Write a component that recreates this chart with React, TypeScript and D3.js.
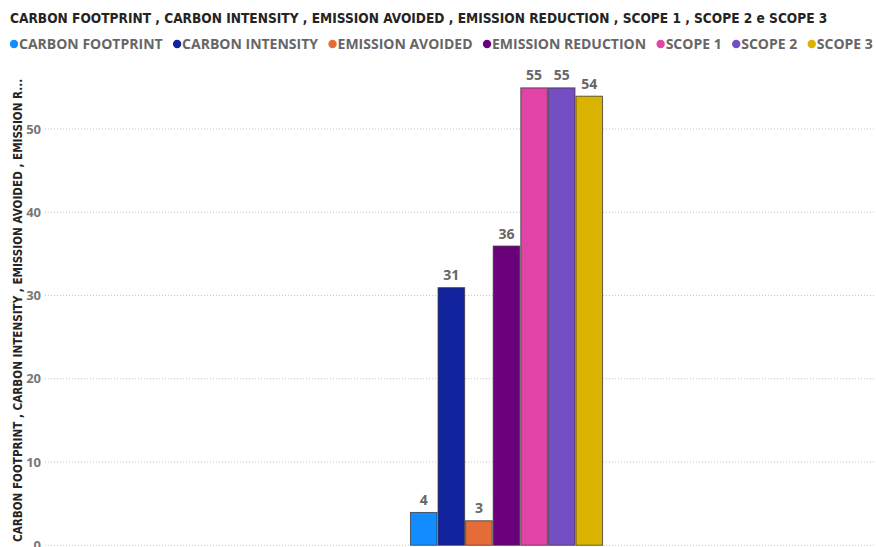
import React, { useMemo } from "react";
import * as d3 from "d3";

const WIDTH = 876;
const HEIGHT = 547;

const categories = ["Total"];
const seriesNames = [
  "CARBON FOOTPRINT",
  "CARBON INTENSITY",
  "EMISSION AVOIDED",
  "EMISSION REDUCTION",
  "SCOPE 1",
  "SCOPE 2",
  "SCOPE 3",
];
const seriesValues = [4, 31, 3, 36, 55, 55, 54];
const seriesColors = ["#118DFF", "#12239E", "#E66C37", "#6B007B", "#E044A7", "#744EC2", "#D9B300"];
const yTicks = [0, 10, 20, 30, 40, 50];

const titleText =
  "CARBON FOOTPRINT , CARBON INTENSITY , EMISSION AVOIDED , EMISSION REDUCTION , SCOPE 1 , SCOPE 2 e SCOPE 3";
const yAxisTitle = "CARBON FOOTPRINT , CARBON INTENSITY , EMISSION AVOIDED , EMISSION R...";

const uiFont = "'Open Sans', 'Noto Sans', sans-serif";
const headFont = "'DejaVu Sans Condensed', 'DejaVu Sans', sans-serif";

function measure(text: string, font: string): number {
  if (typeof document === "undefined") return text.length * 8;
  const c = document.createElement("canvas");
  const ctx = c.getContext("2d");
  if (!ctx) return text.length * 8;
  ctx.font = font;
  return ctx.measureText(text).width;
}

export default function App() {
  const plotLeft = 45;
  const plotRight = 968; // plot extends past the visible frame
  const y = d3.scaleLinear().domain([0, 60]).range([545.25, 45.75]);
  const x0 = d3
    .scaleBand<string>()
    .domain(categories)
    .range([plotLeft, plotRight])
    .paddingInner(0.654)
    .paddingOuter(0.654);
  const x1 = d3
    .scaleBand<string>()
    .domain(seriesNames)
    .range([0, x0.bandwidth()])
    .padding(0);

  const titleSize = 14.5;
  const titleWidth = 818;
  const titleScale = useMemo(() => {
    const w = measure(titleText, `700 ${titleSize}px ${headFont}`);
    return w > 0 ? Math.min(1, titleWidth / w) : 1;
  }, []);

  const axisTitleSize = 12.5;
  const axisTitleLength = 464;
  const axisTitleScale = useMemo(() => {
    const w = measure(yAxisTitle, `700 ${axisTitleSize}px ${headFont}`);
    return w > 0 ? axisTitleLength / w : 1;
  }, []);

  const legendFontSize = 14;
  const legendItems = useMemo(() => {
    let cx = 14;
    return seriesNames.map((name, i) => {
      const w = measure(name, `700 ${legendFontSize}px ${uiFont}`);
      const item = { name, color: seriesColors[i], cx, tx: cx + 5 };
      cx = cx + 5 + w + 14.5;
      return item;
    });
  }, []);

  return (
    <svg
      width={WIDTH}
      height={HEIGHT}
      style={{ position: "fixed", left: 0, top: 0, background: "#fff" }}
    >
      <text
        transform={`translate(10, 23) scale(${titleScale}, 1)`}
        fontFamily={headFont}
        fontWeight={700}
        fontSize={titleSize}
        fill="#252423"
      >
        {titleText}
      </text>

      <g>
        {legendItems.map((it) => (
          <g key={it.name}>
            <circle cx={it.cx} cy={44} r={4.2} fill={it.color} />
            <text
              x={it.tx}
              y={49}
              fontFamily={uiFont}
              fontWeight={700}
              fontSize={legendFontSize}
              fill="#666"
            >
              {it.name}
            </text>
          </g>
        ))}
      </g>

      <text
        transform={`translate(22, 542) rotate(-90) scale(${axisTitleScale}, 1)`}
        fontFamily={headFont}
        fontWeight={700}
        fontSize={axisTitleSize}
        fill="#252423"
      >
        {yAxisTitle}
      </text>

      <g>
        {yTicks.map((t) => (
          <g key={t}>
            <line
              x1={plotLeft}
              x2={WIDTH}
              y1={y(t)}
              y2={y(t)}
              stroke="#C8C8C8"
              strokeWidth={1}
              strokeDasharray="1 2"
            />
            <text
              x={41}
              y={y(t) + 4.5}
              textAnchor="end"
              fontFamily={uiFont}
              fontWeight={700}
              fontSize={13}
              fill="#777"
            >
              {t}
            </text>
          </g>
        ))}
      </g>

      {categories.map((cat) => (
        <g key={cat} transform={`translate(${x0(cat)},0)`}>
          {seriesNames.map((name, i) => {
            const v = seriesValues[i];
            const bx = x1(name) as number;
            const bw = x1.bandwidth();
            return (
              <g key={name}>
                <rect
                  x={bx + 0.5}
                  y={y(v) + 0.5}
                  width={bw - 1}
                  height={y(0) - y(v) - 0.5}
                  fill={seriesColors[i]}
                  stroke="#333"
                  strokeOpacity={0.75}
                  strokeWidth={1}
                />
                <text
                  x={bx + bw / 2}
                  y={y(v) - 7}
                  textAnchor="middle"
                  fontFamily={uiFont}
                  fontWeight={700}
                  fontSize={14}
                  fill="#666"
                >
                  {v}
                </text>
              </g>
            );
          })}
        </g>
      ))}
    </svg>
  );
}
